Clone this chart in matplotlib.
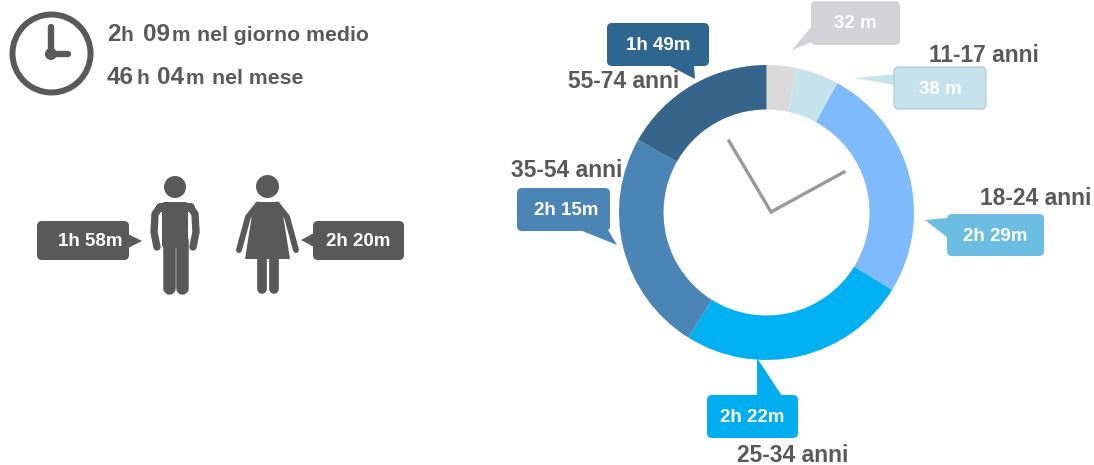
import matplotlib
matplotlib.use("Agg")
import matplotlib.pyplot as plt
from matplotlib.patches import FancyBboxPatch, Polygon, Circle

plt.rcParams['font.family'] = ['Liberation Sans', 'DejaVu Sans']

# data: slices are the arc shares as drawn in the picture (degrees), clockwise from 12 o'clock
groups = ['2-10 anni', '11-17 anni', '18-24 anni', '25-34 anni', '35-54 anni', '55-74 anni']
durations = ['32 m', '38 m', '2h 29m', '2h 22m', '2h 15m', '1h 49m']
arc_shares = [12.0, 16.7, 93.0, 90.3, 87.5, 60.5]
slice_colors = ['#D9D9D9', '#C6E3EC', '#7FBBFC', '#00B0F0', '#4A85B5', '#35658A']
bubble_colors = ['#D2D2D7', '#C6E3EC', '#6BBDE2', '#00AEEF', '#4A85B5', '#2F6690']
gender_labels = ['1h 58m', '2h 20m']
headline = [('2', 'h', '09', 'm', 'nel giorno medio'), ('46', 'h', '04', 'm', 'nel mese')]

W, H = 1094, 465
DARK = '#595959'
fig = plt.figure(figsize=(W / 100, H / 100), dpi=100, facecolor='white')

# donut
cx, cy, R, r = 766.5, 212.5, 147.5, 103
pie_ax = fig.add_axes([(cx - R) / W, 1 - (cy + R) / H, 2 * R / W, 2 * R / H])
pie_ax.pie(arc_shares, colors=slice_colors, startangle=90, counterclock=False, radius=1.0,
           wedgeprops=dict(width=(R - r) / R, linewidth=0))
pie_ax.set_xlim(-1, 1)
pie_ax.set_ylim(-1, 1)

txt_ax = fig.add_axes([0, 0, 1, 1], zorder=5)
txt_ax.set_xlim(0, W)
txt_ax.set_ylim(H, 0)
txt_ax.axis('off')
txt_ax.patch.set_alpha(0)

# clock hands in donut
txt_ax.plot([729, 771, 844], [141, 212, 172], color='#999999', lw=2.4, solid_joinstyle='miter')


def bubble(x0, y0, x1, y1, color, tail, label, edge=None, dx=0):
    txt_ax.add_patch(Polygon(tail, closed=True, fc=color, ec='none', zorder=3))
    txt_ax.add_patch(FancyBboxPatch((x0 + 5, y0 + 5), x1 - x0 - 10, y1 - y0 - 10,
                                    boxstyle='round,pad=5,rounding_size=5', fc=color,
                                    ec=edge or 'none', lw=0.8, zorder=3))
    txt_ax.text((x0 + x1) / 2 + dx, (y0 + y1) / 2 + 1, label, color='white', fontsize=13.5,
                fontweight='bold', ha='center', va='center', zorder=4)


boxes = [(811, 1, 900, 45), (894, 67, 986, 109), (947, 214, 1044, 256),
         (707, 395, 798, 438), (517, 188, 610, 231), (607, 23, 709, 66)]
tails = [[(792, 50), (812, 26), (812, 42)], [(855, 78), (895, 74), (895, 85)],
         [(925, 220), (948, 218), (948, 238)], [(757, 358), (757, 396), (782, 396)],
         [(617, 245), (580, 230), (608, 230)], [(695, 79), (668, 65), (694, 65)]]
edges = [None, '#A9C6D6', None, None, None, None]
shifts = [0, 0, 0, 0, 3, 0]
for box, tail, col, lab, ed, sh in zip(boxes, tails, bubble_colors, durations, edges, shifts):
    bubble(*box, col, tail, lab, edge=ed, dx=sh)

# age labels (the first group is cut away by the picture's top edge)
label_pos = [(929, 55, 1), (980, 198, 2), (737, 455.5, 3), (511, 170, 4), (568, 81, 5)]
for x, y, i in label_pos:
    txt_ax.text(x, y, groups[i], color=DARK, fontsize=16.4, fontweight='bold', ha='left',
                va='center', zorder=2)

# top-left clock
txt_ax.add_patch(Circle((51.5, 53.5), 39, fc='none', ec=DARK, lw=4.3))
txt_ax.plot([51, 51, 68], [27, 54, 54], color=DARK, lw=4.6, solid_capstyle='round',
            solid_joinstyle='miter')
txt_ax.add_patch(Circle((51, 54), 6, fc=DARK, ec='none'))

# headline
starts = [[107, 120.5, 143, 171.5, 197], [107, 136.5, 157, 186, 212]]
sizes = [17.5, 15, 17.5, 15, 15.3]
for y, pieces, xs in zip((41, 84), headline, starts):
    for piece, x, s in zip(pieces, xs, sizes):
        txt_ax.text(x, y, piece, color=DARK, fontsize=s, fontweight='bold', ha='left',
                    va='baseline')

# gender bubbles
bubble(37, 221, 129, 260, DARK, [(142, 241), (128, 234), (128, 248)], gender_labels[0], dx=7)
bubble(313, 221, 404, 260, DARK, [(301, 240), (314, 233), (314, 247)], gender_labels[1])

# male figure
txt_ax.add_patch(Circle((175, 187), 11, fc=DARK, ec='none'))
txt_ax.add_patch(FancyBboxPatch((165, 205), 20, 40, boxstyle='round,pad=3,rounding_size=3',
                                fc=DARK, ec='none'))
txt_ax.plot([160, 155, 154, 157], [207, 214, 232, 247], color=DARK, lw=5.3, solid_capstyle='round')
txt_ax.plot([190, 195, 196, 193], [207, 214, 232, 247], color=DARK, lw=5.3, solid_capstyle='round')
txt_ax.plot([160, 190], [206.5, 206.5], color=DARK, lw=6.5, solid_capstyle='round')
txt_ax.plot([168.5, 168.5], [240, 288], color=DARK, lw=9, solid_capstyle='round')
txt_ax.plot([181.5, 181.5], [240, 288], color=DARK, lw=9, solid_capstyle='round')

# female figure
txt_ax.add_patch(Circle((267.5, 186.5), 11.5, fc=DARK, ec='none'))
txt_ax.add_patch(Polygon([(256, 202), (279, 202), (283, 215), (290, 259), (245, 259), (252, 215)],
                         closed=True, fc=DARK, ec='none'))
txt_ax.plot([258, 248, 239], [204.5, 217, 250], color=DARK, lw=4.3, solid_capstyle='round')
txt_ax.plot([277, 287, 296], [204.5, 217, 250], color=DARK, lw=4.3, solid_capstyle='round')
txt_ax.plot([262, 262], [255, 289], color=DARK, lw=7, solid_capstyle='round')
txt_ax.plot([273.5, 273.5], [255, 289], color=DARK, lw=7, solid_capstyle='round')

fig.savefig('out.png', dpi=100, facecolor='white')
